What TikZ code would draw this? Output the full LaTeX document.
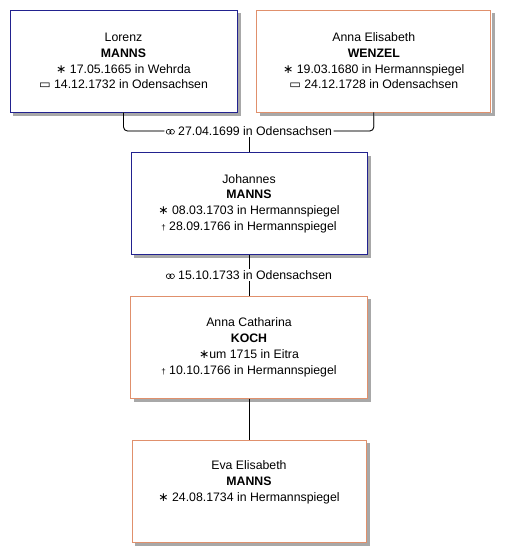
\documentclass[tikz,border=0pt]{standalone}
\usepackage{fontspec}
\setmainfont{Liberation Sans}
\newfontfamily\symfont{DejaVu Sans}
\usetikzlibrary{positioning,calc}

\definecolor{maleline}{HTML}{22228F}
\definecolor{femaleline}{HTML}{E0906C}
\definecolor{shadowgray}{HTML}{A8A8A8}

\newcommand{\born}{{\symfont ∗}~}
\newcommand{\buried}{{\symfont ▭}~}
\newcommand{\died}{{\footnotesize †}~}
\newcommand{\wedding}{\tikz[baseline=-3.6pt]{\draw[line width=0.6pt] (0,0) circle (2.4pt) (3.4pt,0) circle (2.4pt);}~}

\begin{document}
\begin{tikzpicture}[
    x=1pt, y=1pt,
    node distance=41pt and 19pt,
    person/.style={draw, line width=0.8pt, fill=white, align=center,
        minimum height=102pt, inner sep=0pt,
        font=\fontsize{12.3}{15.7}\selectfont},
    male/.style={person, draw=maleline},
    female/.style={person, draw=femaleline},
    link/.style={line width=0.8pt},
    linkshadow/.style={draw=shadowgray, line width=0.9pt},
    boxshadow/.style={fill=shadowgray},
    wed/.style={fill=white, inner sep=1.5pt, font=\fontsize{12.3}{14}\selectfont}
]
\useasboundingbox (0,0) rectangle (510,-558);

\node[male, minimum width=227pt] (lorenz) at (123.5,-61)
    {Lorenz\\ \textbf{MANNS}\\ \born 17.05.1665 in Wehrda\\ \buried 14.12.1732 in Odensachsen};
\node[female, minimum width=234pt] (elisabeth) [right=19pt of lorenz]
    {Anna Elisabeth\\ \textbf{WENZEL}\\ \born 19.03.1680 in Hermannspiegel\\ \buried 24.12.1728 in Odensachsen};

\node[wed] (wed1) at (249,-131) {\wedding 27.04.1699 in Odensachsen};

\node[male, minimum width=236pt] (johannes) at (249,-203.5)
    {Johannes\\ \textbf{MANNS}\\ \born 08.03.1703 in Hermannspiegel\\ \died 28.09.1766 in Hermannspiegel};
\node[female, minimum width=237pt] (catharina) [below=41pt of johannes]
    {Anna Catharina\\ \textbf{KOCH}\\ {\symfont ∗}um 1715 in Eitra\\ \died 10.10.1766 in Hermannspiegel};
\node[female, minimum width=234pt] (eva) [below=41pt of catharina]
    {Eva Elisabeth\\ \textbf{MANNS}\\ \born 24.08.1734 in Hermannspiegel\\ \strut};

% shadows
\foreach \p in {lorenz,elisabeth,johannes,catharina,eva} {
    \fill[boxshadow] ($(\p.north east)+(0.4,-3.5)$) rectangle ($(\p.south east)+(3.5,-3.5)$);
    \fill[boxshadow] ($(\p.south west)+(3.5,-0.4)$) rectangle ($(\p.south east)+(3.5,-3.5)$);
}
\begin{scope}[shift={(1.3,-1.3)}]
\draw[linkshadow, rounded corners=4pt] (lorenz.south) |- (wed1.west);
\draw[linkshadow, rounded corners=4pt] (elisabeth.south) |- (wed1.east);
\draw[linkshadow] (wed1.south) -- (johannes.north);
\draw[linkshadow] (johannes.south) -- (catharina.north);
\draw[linkshadow] (catharina.south) -- (eva.north);
\end{scope}

% parents
\draw[link, rounded corners=4pt] (lorenz.south) |- (wed1.west);
\draw[link, rounded corners=4pt] (elisabeth.south) |- (wed1.east);
\draw[link] (wed1.south) -- (johannes.north);

% children
\draw[link] (johannes.south) -- (catharina.north)
    node[wed, midway] (wed2) {\wedding 15.10.1733 in Odensachsen};
\draw[link] (catharina.south) -- (eva.north);
\end{tikzpicture}
\end{document}
